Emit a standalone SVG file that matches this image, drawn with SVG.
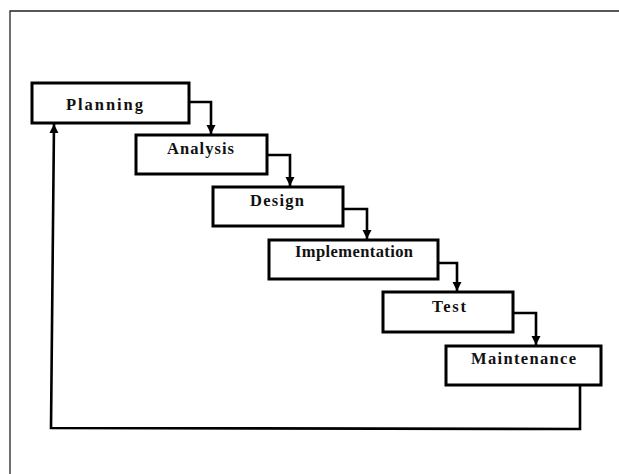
<svg xmlns="http://www.w3.org/2000/svg" width="619" height="474" viewBox="0 0 619 474">
  <defs>
    <style>
      .box { fill: #ffffff; stroke: #000000; stroke-width: 3; }
      .lbl { font-family: "Liberation Serif", "Times New Roman", serif; font-weight: bold; font-size: 16.5px; fill: #111111; text-anchor: middle; }
      .conn { fill: none; stroke: #000000; stroke-width: 2.6; }
      .frame { fill: none; stroke: #222222; stroke-width: 1.3; }
    </style>
    <marker id="arrow" markerUnits="userSpaceOnUse" markerWidth="10" markerHeight="10" viewBox="0 0 10 10" refX="10" refY="5" orient="auto">
      <path d="M1,0.5 L10,5 L1,9.5 Z" fill="#000000"/>
    </marker>
  </defs>

  <rect x="0" y="0" width="619" height="474" fill="#ffffff"/>
  <path class="frame" d="M10,474 L10,11 L619,11"/>

  <g id="connectors">
    <path class="conn" d="M189,102 L211,102 L211,134" marker-end="url(#arrow)"/>
    <path class="conn" d="M267,155 L290,155 L290,186" marker-end="url(#arrow)"/>
    <path class="conn" d="M343,209 L367,209 L367,239" marker-end="url(#arrow)"/>
    <path class="conn" d="M438,263 L457,263 L457,291" marker-end="url(#arrow)"/>
    <path class="conn" d="M513,313 L536,313 L536,345" marker-end="url(#arrow)"/>
    <path class="conn" d="M580,385 L580,429 L51,428 L54,124" marker-end="url(#arrow)"/>
  </g>

  <g id="planning">
    <rect class="box" x="32" y="83" width="157" height="40"/>
    <text class="lbl" x="104.5" y="110" textLength="77" lengthAdjust="spacing">Planning</text>
  </g>
  <g id="analysis">
    <rect class="box" x="136" y="135" width="131" height="39"/>
    <text class="lbl" x="200.5" y="154" textLength="67" lengthAdjust="spacing">Analysis</text>
  </g>
  <g id="design">
    <rect class="box" x="213" y="187" width="130" height="39"/>
    <text class="lbl" x="277" y="206" textLength="54" lengthAdjust="spacing">Design</text>
  </g>
  <g id="implementation">
    <rect class="box" x="269" y="240" width="169" height="39"/>
    <text class="lbl" x="354" y="257" textLength="118" lengthAdjust="spacing">Implementation</text>
  </g>
  <g id="test">
    <rect class="box" x="383" y="292" width="130" height="40"/>
    <text class="lbl" x="449" y="312" textLength="34" lengthAdjust="spacing">Test</text>
  </g>
  <g id="maintenance">
    <rect class="box" x="446" y="346" width="155" height="39"/>
    <text class="lbl" x="523.5" y="364" textLength="105" lengthAdjust="spacing">Maintenance</text>
  </g>
</svg>
